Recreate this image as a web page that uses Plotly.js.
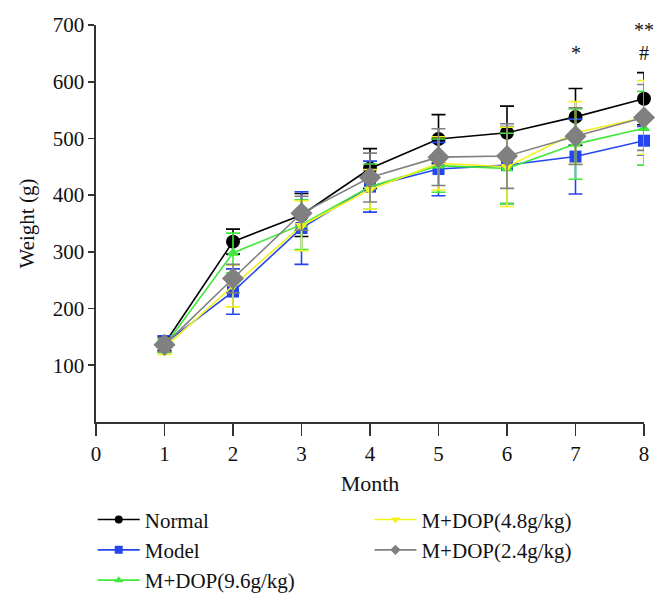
<!DOCTYPE html>
<html>
<head>
<meta charset="utf-8">
<script src="https://cdn.plot.ly/plotly-3.0.1.min.js"></script>
<style>html,body{margin:0;padding:0;background:#fff;}#chart{width:668px;height:601px;}</style>
</head>
<body>
<div id="chart"></div>
<script>
var months = [1, 2, 3, 4, 5, 6, 7, 8];
var xTicks = [0, 1, 2, 3, 4, 5, 6, 7, 8];
var yTicks = [100, 200, 300, 400, 500, 600, 700];
var yMax = 700;

var normal    = [138, 318, 365, 447, 499, 510, 538, 570];
var normalErr = [12, 22, 38, 35, 43, 47, 50, 46];
var model     = [138, 230, 342, 415, 446, 453, 468, 496];
var modelErr  = [14, 40, 64, 45, 47, 68, 66, 25];
var dop96     = [134, 298, 348, 415, 452, 447, 490, 518];
var dop96Err  = [12, 35, 44, 40, 47, 62, 62, 65];
var dop48     = [131, 240, 346, 410, 456, 450, 510, 537];
var dop48Err  = [12, 37, 44, 35, 47, 70, 55, 65];
var dop24     = [136, 253, 368, 431, 467, 469, 504, 537];
var dop24Err  = [12, 25, 30, 43, 50, 57, 50, 58];

var names = ["Normal", "Model", "M+DOP(9.6g/kg)", "M+DOP(4.8g/kg)", "M+DOP(2.4g/kg)"];
var marks = [
  {x: 7, y: 651, t: "*"},
  {x: 8, y: 651, t: "#"},
  {x: 8, y: 714, t: "**"}
];

var colors = ["#000000", "#2346f0", "#3fe83a", "#f2f21c", "#808080"];
var symbols = ["circle", "square", "triangle-up", "triangle-down", "diamond"];
var sizes = [14, 12, 11, 11, 17];
var legendSizes = [8, 8, 8, 8, 8];
var legendIds = ["legend", "legend", "legend", "legend2", "legend2"];
var series = [normal, model, dop96, dop48, dop24];
var errs = [normalErr, modelErr, dop96Err, dop48Err, dop24Err];

var data = [];
for (var i = 0; i < series.length; i++) {
  data.push({
    type: "scatter", mode: "lines+markers", name: names[i], x: months, y: series[i],
    line: {color: colors[i], width: 1.6},
    marker: {color: colors[i], symbol: symbols[i], size: sizes[i]},
    error_y: {type: "data", array: errs[i], visible: true, color: colors[i], thickness: 1.6, width: 7},
    showlegend: false, cliponaxis: false
  });
}
for (var j = 0; j < series.length; j++) {
  data.push({
    type: "scatter", mode: "lines+markers", name: names[j], x: [null], y: [null],
    line: {color: colors[j], width: 1.6},
    marker: {color: colors[j], symbol: symbols[j], size: legendSizes[j]},
    showlegend: true, legend: legendIds[j]
  });
}

var font = "Liberation Serif, Times New Roman, serif";
var layout = {
  width: 668, height: 601,
  margin: {l: 96, r: 24, t: 25, b: 179, autoexpand: false},
  paper_bgcolor: "#fff", plot_bgcolor: "#fff",
  font: {family: font, size: 21, color: "#111"},
  showlegend: true,
  xaxis: {
    range: [0, 8], tickvals: xTicks, ticks: "outside", ticklen: 12, tickwidth: 1.6, tickcolor: "#333",
    showline: true, linecolor: "#333", linewidth: 1.6, showgrid: false, zeroline: false,
    tickfont: {size: 21, family: font},
    title: {text: "Month", font: {size: 22, family: font}, standoff: 11}
  },
  yaxis: {
    range: [0, yMax], tickvals: yTicks, ticks: "outside", ticklen: 6, tickwidth: 1.6, tickcolor: "#333",
    showline: true, linecolor: "#333", linewidth: 1.6, showgrid: false, zeroline: false,
    tickfont: {size: 21, family: font},
    title: {text: "Weight (g)", font: {size: 21, family: font}, standoff: 12}
  },
  legend: {x: -0.006, xanchor: "left", y: -0.195, yanchor: "top", orientation: "v", itemwidth: 42,
    font: {size: 21, family: font}, bgcolor: "rgba(0,0,0,0)", tracegroupgap: 0},
  legend2: {x: 0.499, xanchor: "left", y: -0.195, yanchor: "top", orientation: "v", itemwidth: 42,
    font: {size: 21, family: font}, bgcolor: "rgba(0,0,0,0)", tracegroupgap: 0},
  annotations: marks.map(function (m) {
    var out = m.y > yMax;
    return {x: m.x, y: out ? m.y / yMax : m.y, xref: "x", yref: out ? "paper" : "y",
      text: m.t, showarrow: false, font: {size: 20, family: font, color: "#111"}};
  })
};

Plotly.newPlot("chart", data, layout, {displayModeBar: false, staticPlot: true});
</script>
</body>
</html>
